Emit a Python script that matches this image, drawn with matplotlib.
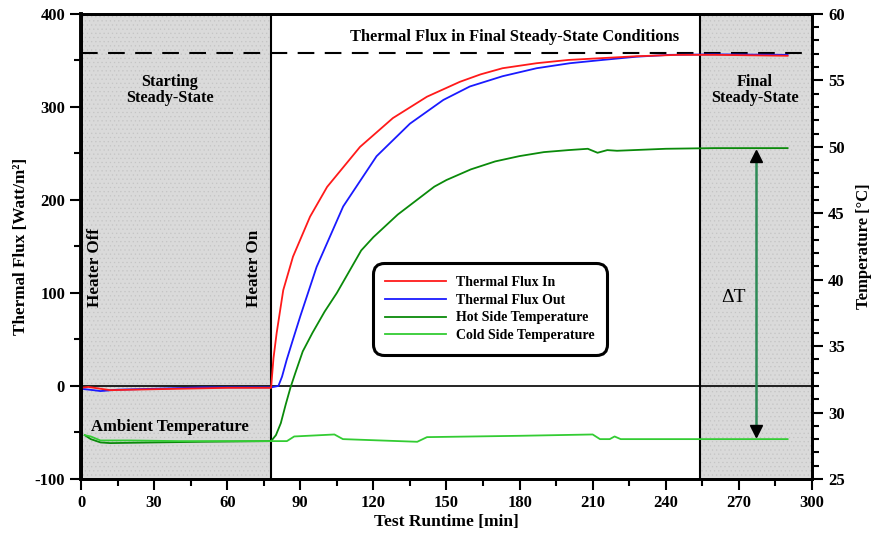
import numpy as np
import matplotlib.pyplot as plt
from matplotlib.ticker import MultipleLocator
from matplotlib.lines import Line2D

plt.rcParams['font.family'] = ['Liberation Serif', 'DejaVu Serif']
plt.rcParams['font.weight'] = 'bold'
plt.rcParams['axes.unicode_minus'] = False
plt.rcParams['hatch.color'] = '#c4c4c4'
plt.rcParams['hatch.linewidth'] = 0.4

# Thermal flux in (W/m2)
t_in = [0, 3, 8, 12, 30, 50, 60, 78, 79, 80.3, 83, 87, 94, 101, 114.5, 128, 142, 155.5,
        164, 173, 187, 200, 214, 228, 245, 260, 275, 290]
q_in = [-2, -1, -3, -4.5, -3.5, -2.5, -2, -2, 30, 57, 103, 139, 182, 214, 257, 288, 311, 327,
        335, 341.6, 347, 350.5, 352.5, 354.5, 356, 356, 355.5, 355]

# Thermal flux out (W/m2)
t_out = [0, 5, 8, 15, 30, 50, 78, 81, 82.5, 84.4, 87, 90, 96.7, 107.6, 121.3, 135, 148.7,
         159.6, 173, 187, 200.7, 214, 228, 241.7, 260, 290]
q_out = [-3, -4.5, -5.5, -4, -3, -1.5, -1.5, 0, 10, 28, 50, 75, 128, 193, 247, 282, 307.5,
         322, 333, 341.6, 347, 350.5, 354, 356, 356.5, 356]

# Hot side temperature (C)
t_hot = [1.5, 4, 8, 12, 30, 50, 78, 80, 82, 84, 86, 88, 91, 95, 100, 105, 110, 115, 120,
         130, 140, 145, 150, 160, 170, 180, 190, 200, 208, 212, 216, 220, 240, 260, 290]
T_hot = [28.3, 28.0, 27.75, 27.7, 27.75, 27.8, 27.85, 28.3, 29.2, 30.6, 31.9, 33.0, 34.6,
         36.0, 37.6, 39.0, 40.6, 42.2, 43.2, 44.9, 46.3, 47.0, 47.5, 48.3, 48.9, 49.3, 49.6,
         49.75, 49.85, 49.55, 49.75, 49.7, 49.85, 49.9, 49.9]

# Cold side temperature (C)
t_cold = [1.5, 4, 8, 20, 40, 60, 78, 84.5, 87.5, 104, 107.5, 138, 142, 180, 210, 213, 217,
          219, 221.5, 290]
T_cold = [28.3, 28.2, 27.9, 27.9, 27.85, 27.85, 27.85, 27.85, 28.2, 28.35, 28.0, 27.8, 28.15,
          28.25, 28.35, 28.0, 28.0, 28.2, 28.0, 28.0]

q_final = 358
heater_on = 78
final_start = 254
dT_x = 277

fig = plt.figure(figsize=(8.74, 5.35), dpi=100)
ax = fig.add_axes([0.0927, 0.1047, 0.929 - 0.0927, 0.974 - 0.1047])
ax2 = ax.twinx()

# shaded steady-state regions
for x0, x1 in [(0, heater_on), (final_start, 300)]:
    ax.axvspan(x0, x1, facecolor='#dadada', edgecolor='#c4c4c4', hatch='....', lw=0, zorder=0)
    ax.axvline(x0 if x0 > 0 else x1, color='black', lw=1.5, zorder=1)

ax.axhline(0, color='black', lw=1.2, zorder=1)
ax.axhline(q_final, color='black', lw=1.5, ls=(0, (8, 5)), zorder=1)

ax.plot(t_in, q_in, color='#ff1a1a', lw=1.3, zorder=3)
ax.plot(t_out, q_out, color='#1a1aff', lw=1.3, zorder=2)
ax2.plot(t_hot, T_hot, color='#0a8a0a', lw=1.3)
ax2.plot(t_cold, T_cold, color='#33cc33', lw=1.3)

# delta T arrow
ax2.plot([dT_x, dT_x], [28.3, 49.5], color='#2e8b57', lw=1.8)
ax2.plot(dT_x, 49.3, marker='^', color='black', ms=8)
ax2.plot(dT_x, 28.6, marker='v', color='black', ms=8)

ax.set_xlim(0, 300)
ax.set_ylim(-100, 400)
ax2.set_ylim(25, 60)
ax.xaxis.set_major_locator(MultipleLocator(30))
ax.xaxis.set_minor_locator(MultipleLocator(15))
ax.yaxis.set_major_locator(MultipleLocator(100))
ax.yaxis.set_minor_locator(MultipleLocator(50))
ax2.yaxis.set_major_locator(MultipleLocator(5))
ax2.yaxis.set_minor_locator(MultipleLocator(1))

for a in (ax, ax2):
    a.tick_params(which='major', direction='out', length=8, width=1.5, labelsize=12)
    a.tick_params(which='minor', direction='out', length=5, width=1.5)
    for s in a.spines.values():
        s.set_linewidth(2)
ax.spines['left'].set_linewidth(2.8)

ax.set_xlabel('Test Runtime [min]', fontsize=12.5, fontweight='bold', labelpad=2)
ax.set_ylabel('Thermal Flux [Watt/m²]', fontsize=12.3, fontweight='bold', labelpad=4)
ax2.set_ylabel('Temperature [°C]', fontsize=12, fontweight='bold', labelpad=8)

ax.text(178, 367, 'Thermal Flux in Final Steady-State Conditions', ha='center', va='bottom',
        fontsize=11.8, fontweight='bold')
ax.text(36.5, 318, 'Starting\nSteady-State', ha='center', va='center', fontsize=11.7,
        fontweight='bold', linespacing=1.05)
ax.text(276.5, 318, 'Final\nSteady-State', ha='center', va='center', fontsize=11.7,
        fontweight='bold', linespacing=1.05)
ax.text(5.7, 127, 'Heater Off', rotation=90, ha='center', va='center', fontsize=12.3,
        fontweight='bold')
ax.text(71, 126, 'Heater On', rotation=90, ha='center', va='center', fontsize=12.3,
        fontweight='bold')
ax.text(36.5, -44, 'Ambient Temperature', ha='center', va='center', fontsize=12,
        fontweight='bold')
ax.text(268, 95, 'ΔT', ha='center', va='center', fontsize=14, fontweight='normal')

handles = [Line2D([], [], color='#ff1a1a', lw=1.3),
           Line2D([], [], color='#1a1aff', lw=1.3),
           Line2D([], [], color='#0a8a0a', lw=1.3),
           Line2D([], [], color='#33cc33', lw=1.3)]
labels = ['Thermal Flux In', 'Thermal Flux Out', 'Hot Side Temperature', 'Cold Side Temperature']
leg = ax2.legend(handles, labels, loc='upper left', bbox_to_anchor=(0.395, 0.27, 0.32, 0.2),
                 prop={'weight': 'bold', 'size': 10},
                 handlelength=4.4, handletextpad=0.7, labelspacing=0.35, borderpad=0.6,
                 fancybox=True, framealpha=1)
leg.get_frame().set_edgecolor('black')
leg.get_frame().set_linewidth(2.2)
leg.get_frame().set_boxstyle('round,pad=0.3,rounding_size=0.8')

fig.savefig('out.png', dpi=100)
